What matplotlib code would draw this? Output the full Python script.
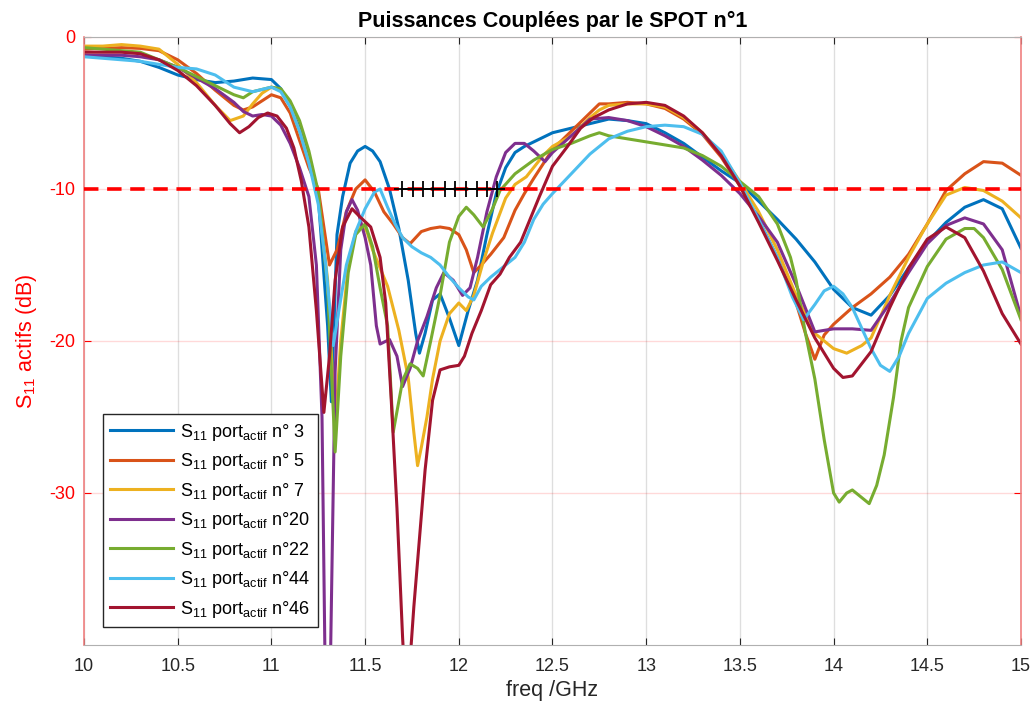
import numpy as np
import matplotlib
matplotlib.use("Agg")
import matplotlib.pyplot as plt

plt.rcParams['font.family'] = ['Liberation Sans', 'DejaVu Sans']
plt.rcParams['axes.unicode_minus'] = False

# (freq GHz, S11 dB), one list per active port
p3 = [(10.0, -1.2), (10.1, -1.3), (10.2, -1.4), (10.3, -1.6), (10.4, -2.0), (10.5, -2.5),
      (10.6, -2.8), (10.7, -3.0), (10.8, -2.9), (10.9, -2.7), (11.0, -2.8), (11.05, -3.4),
      (11.1, -4.5), (11.15, -6.0), (11.2, -8.0), (11.25, -10.5), (11.3, -19.0), (11.32, -24.0),
      (11.35, -13.0), (11.38, -10.5), (11.42, -8.3), (11.46, -7.5), (11.5, -7.2), (11.54, -7.5),
      (11.58, -8.2), (11.63, -10.0), (11.68, -12.6), (11.73, -16.0), (11.77, -19.5), (11.79, -20.8),
      (11.82, -19.5), (11.86, -17.3), (11.9, -16.9), (11.95, -18.5), (12.0, -20.3), (12.05, -18.0),
      (12.1, -16.0), (12.15, -13.0), (12.2, -10.3), (12.25, -8.6), (12.3, -7.6), (12.35, -7.2),
      (12.4, -6.9), (12.5, -6.3), (12.6, -6.0), (12.7, -5.7), (12.8, -5.4), (12.9, -5.5),
      (13.0, -5.7), (13.1, -6.3), (13.2, -7.0), (13.3, -7.9), (13.4, -8.8), (13.5, -9.6),
      (13.6, -10.8), (13.7, -12.0), (13.8, -13.3), (13.9, -14.8), (14.0, -16.6), (14.1, -17.8),
      (14.2, -18.3), (14.3, -17.0), (14.4, -15.2), (14.5, -13.5), (14.6, -12.2), (14.7, -11.2),
      (14.8, -10.7), (14.9, -11.3), (15.0, -13.9)]

p5 = [(10.0, -0.8), (10.1, -0.75), (10.2, -0.7), (10.3, -0.75), (10.4, -0.9), (10.5, -1.5),
      (10.6, -2.4), (10.7, -3.5), (10.8, -4.5), (10.85, -4.8), (10.9, -4.6), (11.0, -3.8),
      (11.05, -4.0), (11.1, -5.0), (11.15, -6.8), (11.2, -8.6), (11.25, -10.0), (11.28, -12.5),
      (11.31, -15.0), (11.35, -14.0), (11.4, -11.5), (11.45, -10.0), (11.5, -9.4), (11.55, -10.2),
      (11.6, -11.5), (11.65, -12.3), (11.7, -13.2), (11.74, -13.6), (11.8, -12.8), (11.85, -12.6),
      (11.9, -12.5), (11.95, -12.6), (12.0, -13.0), (12.04, -14.0), (12.08, -15.5), (12.12, -15.0),
      (12.17, -14.3), (12.24, -13.2), (12.3, -11.4), (12.35, -10.3), (12.4, -9.3), (12.5, -7.4),
      (12.6, -6.2), (12.7, -5.0), (12.75, -4.4), (12.8, -4.4), (12.9, -4.3), (13.0, -4.4),
      (13.1, -4.7), (13.2, -5.4), (13.3, -6.4), (13.4, -7.9), (13.5, -9.8), (13.6, -12.0),
      (13.7, -14.5), (13.8, -17.5), (13.85, -19.5), (13.9, -21.2), (13.95, -19.6), (14.0, -18.9),
      (14.1, -17.8), (14.2, -16.9), (14.3, -15.8), (14.4, -14.3), (14.5, -12.3), (14.6, -10.1),
      (14.7, -9.0), (14.8, -8.2), (14.9, -8.3), (15.0, -9.1)]

p7 = [(10.0, -0.6), (10.1, -0.6), (10.2, -0.5), (10.3, -0.6), (10.4, -0.8), (10.5, -1.8),
      (10.6, -3.0), (10.7, -4.5), (10.78, -5.5), (10.85, -5.2), (10.9, -4.4), (10.95, -3.7),
      (11.0, -3.3), (11.05, -3.5), (11.1, -4.5), (11.15, -6.2), (11.2, -8.2), (11.25, -10.5),
      (11.3, -16.0), (11.34, -25.7), (11.37, -20.0), (11.41, -15.0), (11.45, -12.8), (11.48, -12.3),
      (11.51, -12.8), (11.54, -14.0), (11.62, -16.4), (11.68, -19.3), (11.73, -22.4), (11.76, -26.0),
      (11.78, -28.2), (11.8, -27.0), (11.83, -25.0), (11.86, -22.5), (11.9, -20.0), (11.95, -18.2),
      (12.0, -17.5), (12.04, -18.0), (12.08, -17.0), (12.13, -14.8), (12.18, -12.9), (12.25, -10.6),
      (12.3, -9.7), (12.36, -9.2), (12.45, -7.8), (12.5, -7.2), (12.6, -6.5), (12.7, -5.3),
      (12.75, -4.8), (12.8, -4.5), (12.9, -4.4), (13.0, -4.4), (13.1, -4.6), (13.2, -5.3),
      (13.3, -6.3), (13.4, -7.7), (13.5, -9.5), (13.6, -11.5), (13.7, -14.0), (13.8, -17.0),
      (13.9, -19.5), (14.0, -20.5), (14.07, -20.8), (14.15, -20.3), (14.2, -19.8), (14.3, -17.0),
      (14.4, -14.5), (14.5, -12.3), (14.6, -10.4), (14.7, -9.9), (14.8, -10.1), (14.9, -10.8),
      (15.0, -11.9)]

p20 = [(10.0, -1.2), (10.1, -1.2), (10.2, -1.2), (10.3, -1.3), (10.4, -1.5), (10.5, -2.0),
       (10.6, -2.7), (10.7, -3.4), (10.8, -4.3), (10.85, -4.9), (10.9, -5.2), (10.95, -5.1),
       (11.0, -5.2), (11.05, -5.8), (11.1, -7.0), (11.15, -8.6), (11.2, -10.5), (11.24, -15.0),
       (11.27, -25.0), (11.29, -45.0), (11.31, -45.0), (11.34, -22.0), (11.37, -14.0), (11.4, -11.5),
       (11.43, -10.7), (11.46, -11.4), (11.5, -13.2), (11.53, -15.0), (11.56, -19.0), (11.58, -20.2),
       (11.63, -19.9), (11.67, -21.0), (11.7, -23.0), (11.74, -21.8), (11.78, -20.0), (11.83, -18.4),
       (11.88, -16.5), (11.92, -15.5), (11.97, -16.0), (12.02, -17.0), (12.06, -16.5), (12.1, -14.5),
       (12.15, -11.5), (12.2, -9.2), (12.25, -7.6), (12.3, -7.0), (12.35, -7.0), (12.4, -7.5),
       (12.46, -8.2), (12.5, -7.6), (12.6, -6.5), (12.7, -5.4), (12.8, -5.3), (12.9, -5.5),
       (13.0, -5.9), (13.1, -6.5), (13.2, -7.2), (13.3, -8.1), (13.4, -9.1), (13.5, -10.3),
       (13.6, -11.8), (13.7, -13.5), (13.8, -16.3), (13.9, -19.4), (14.0, -19.2), (14.1, -19.2),
       (14.2, -19.3), (14.3, -17.5), (14.4, -15.5), (14.5, -13.6), (14.6, -12.4), (14.7, -11.9),
       (14.8, -12.3), (14.9, -14.0), (15.0, -18.4)]

p22 = [(10.0, -0.7), (10.1, -0.8), (10.2, -0.9), (10.3, -1.0), (10.4, -1.5), (10.5, -2.0),
       (10.6, -2.6), (10.7, -3.2), (10.8, -3.8), (10.85, -4.0), (10.9, -3.6), (11.0, -3.3),
       (11.05, -3.4), (11.1, -4.2), (11.15, -5.5), (11.2, -7.5), (11.25, -10.2), (11.3, -16.5),
       (11.34, -27.3), (11.37, -21.0), (11.41, -15.5), (11.45, -13.0), (11.5, -12.3), (11.54, -13.8),
       (11.58, -16.5), (11.62, -19.0), (11.65, -26.0), (11.7, -22.6), (11.74, -21.5), (11.78, -21.8),
       (11.81, -22.3), (11.85, -20.0), (11.9, -17.0), (11.95, -13.5), (12.0, -11.8), (12.04, -11.2),
       (12.08, -11.7), (12.13, -12.5), (12.18, -11.3), (12.22, -10.1), (12.3, -9.0), (12.4, -8.1),
       (12.5, -7.4), (12.6, -7.0), (12.7, -6.5), (12.75, -6.3), (12.8, -6.5), (12.9, -6.7),
       (13.0, -6.9), (13.1, -7.1), (13.2, -7.3), (13.3, -7.8), (13.4, -8.5), (13.5, -9.5),
       (13.6, -10.5), (13.7, -12.3), (13.77, -14.5), (13.8, -16.0), (13.85, -19.5), (13.9, -22.5),
       (13.95, -26.5), (14.0, -30.0), (14.03, -30.6), (14.07, -30.0), (14.1, -29.8), (14.15, -30.3),
       (14.19, -30.7), (14.23, -29.5), (14.27, -27.5), (14.32, -23.7), (14.36, -20.0), (14.4, -17.8),
       (14.5, -15.1), (14.6, -13.3), (14.7, -12.6), (14.75, -12.6), (14.8, -13.2), (14.9, -15.3),
       (15.0, -18.6)]

p44 = [(10.0, -1.3), (10.1, -1.4), (10.2, -1.5), (10.3, -1.6), (10.4, -1.8), (10.5, -2.0),
       (10.6, -2.1), (10.7, -2.5), (10.8, -3.3), (10.9, -3.6), (11.0, -3.3), (11.05, -3.6),
       (11.1, -4.6), (11.15, -6.2), (11.2, -8.3), (11.25, -11.0), (11.29, -15.0), (11.33, -20.3),
       (11.36, -18.0), (11.4, -15.0), (11.45, -12.8), (11.5, -11.3), (11.55, -10.2), (11.58, -10.0),
       (11.62, -11.2), (11.66, -12.3), (11.7, -13.2), (11.75, -13.8), (11.8, -14.2), (11.85, -14.5),
       (11.9, -15.0), (11.95, -15.8), (12.0, -16.5), (12.05, -17.1), (12.08, -17.3), (12.12, -16.4),
       (12.17, -15.8), (12.22, -15.3), (12.3, -14.5), (12.35, -13.5), (12.4, -12.0), (12.45, -11.0),
       (12.5, -10.3), (12.6, -9.0), (12.7, -7.7), (12.8, -6.7), (12.9, -6.2), (13.0, -5.9),
       (13.1, -5.8), (13.2, -5.9), (13.3, -6.4), (13.4, -7.5), (13.5, -9.6), (13.6, -12.0),
       (13.7, -14.5), (13.78, -17.1), (13.84, -18.6), (13.9, -17.6), (13.95, -16.7), (14.0, -16.4),
       (14.05, -16.9), (14.1, -17.8), (14.2, -20.5), (14.25, -21.6), (14.3, -22.0), (14.35, -21.0),
       (14.4, -19.5), (14.5, -17.2), (14.6, -16.2), (14.7, -15.5), (14.8, -15.0), (14.9, -14.8),
       (15.0, -15.5)]

p46 = [(10.0, -1.0), (10.1, -1.0), (10.2, -1.0), (10.3, -1.1), (10.4, -1.5), (10.5, -2.2),
       (10.6, -3.2), (10.7, -4.5), (10.78, -5.7), (10.83, -6.3), (10.88, -5.9), (10.93, -5.3),
       (10.98, -5.0), (11.03, -5.2), (11.08, -6.0), (11.12, -7.3), (11.16, -9.5), (11.2, -12.5),
       (11.24, -18.0), (11.28, -24.7), (11.31, -21.0), (11.34, -16.0), (11.38, -12.5), (11.43, -11.3),
       (11.47, -11.8), (11.53, -12.5), (11.58, -14.5), (11.61, -17.5), (11.64, -24.0), (11.67, -31.0),
       (11.7, -39.5), (11.72, -44.0), (11.74, -41.0), (11.76, -37.5), (11.79, -33.0), (11.82, -28.5),
       (11.86, -23.9), (11.9, -21.9), (11.95, -21.7), (12.0, -21.6), (12.03, -21.0), (12.07, -19.5),
       (12.12, -18.0), (12.17, -16.3), (12.22, -15.6), (12.27, -14.5), (12.33, -13.5), (12.38, -12.0),
       (12.43, -10.5), (12.5, -8.5), (12.58, -7.2), (12.65, -6.0), (12.72, -5.3), (12.8, -4.8),
       (12.9, -4.4), (13.0, -4.3), (13.1, -4.5), (13.2, -5.2), (13.3, -6.3), (13.4, -7.8),
       (13.5, -9.8), (13.6, -12.2), (13.7, -14.7), (13.8, -17.3), (13.9, -19.8), (14.0, -21.8),
       (14.05, -22.4), (14.1, -22.3), (14.2, -20.7), (14.3, -17.8), (14.4, -15.2), (14.5, -13.3),
       (14.6, -12.5), (14.7, -13.2), (14.8, -15.4), (14.9, -18.2), (15.0, -20.2)]

series = [p3, p5, p7, p20, p22, p44, p46]
labels = ['n° 3', 'n° 5', 'n° 7', 'n°20', 'n°22', 'n°44', 'n°46']
colors = ['#0072BD', '#D95319', '#EDB120', '#7E2F8E', '#77AC30', '#4DBEEE', '#A2142F']

# band where S11 < -10 dB for all ports (black +)
band_f = [11.695, 11.756, 11.809, 11.862, 11.926, 11.98, 12.038, 12.097, 12.15, 12.204]
seuil = -10

fig = plt.figure(figsize=(10.36, 7.06), dpi=100)
ax = fig.add_axes([0.0811, 0.0864, 0.9044, 0.8612])

for pts, lab, c in zip(series, labels, colors):
    f, s = zip(*pts)
    ax.plot(f, s, color=c, lw=2.2,
            label=r'S$_{\mathregular{11}}$ port$_{\mathregular{actif}}$ ' + lab)

ax.axhline(seuil, color='#ff0000', lw=2.6, dashes=(4.0, 2.4), zorder=5)
ax.plot(band_f, [seuil] * len(band_f), color='k', lw=1.3, marker='+',
        ms=11, mew=1.3, zorder=6)

ax.set_xlim(10, 15)
ax.set_ylim(-40, 0)
ax.set_xticks(np.arange(10, 15.01, 0.5))
ax.set_xticklabels(['10', '10.5', '11', '11.5', '12', '12.5', '13', '13.5', '14', '14.5', '15'])
ax.set_yticks([-30, -20, -10, 0])

ax.grid(axis='x', color='#262626', alpha=0.15, lw=1)
ax.grid(axis='y', color='#ff0000', alpha=0.15, lw=1)
ax.set_axisbelow(True)

for side in ['top', 'bottom']:
    ax.spines[side].set_color('#b0b0b0')
for side in ['left', 'right']:
    ax.spines[side].set_color('#f08080')
    ax.spines[side].set_linewidth(1.2)

ax.tick_params(axis='x', direction='in', top=True, length=5, color='#262626',
               labelsize=13, labelcolor='#262626', pad=9)
ax.tick_params(axis='y', direction='in', right=True, length=5, color='#ff0000',
               labelsize=13, labelcolor='#ff0000', pad=6)

ax.set_xlabel('freq /GHz', fontsize=15.5, color='#262626', labelpad=4)
ax.set_ylabel(r'S$_{\mathregular{11}}$ actifs (dB)', fontsize=15.5, color='#ff0000', labelpad=8)
ax.set_title('Puissances Couplées par le SPOT n°1', fontsize=15.5, fontweight='bold', pad=7)

leg = ax.legend(loc='lower left', bbox_to_anchor=(0.02, 0.03), borderaxespad=0,
                fontsize=13, handlelength=3.5, handletextpad=0.4, labelspacing=0.47,
                fancybox=False, framealpha=1, edgecolor='#262626')
leg.get_frame().set_linewidth(1.0)

fig.savefig('out.png', dpi=100)
